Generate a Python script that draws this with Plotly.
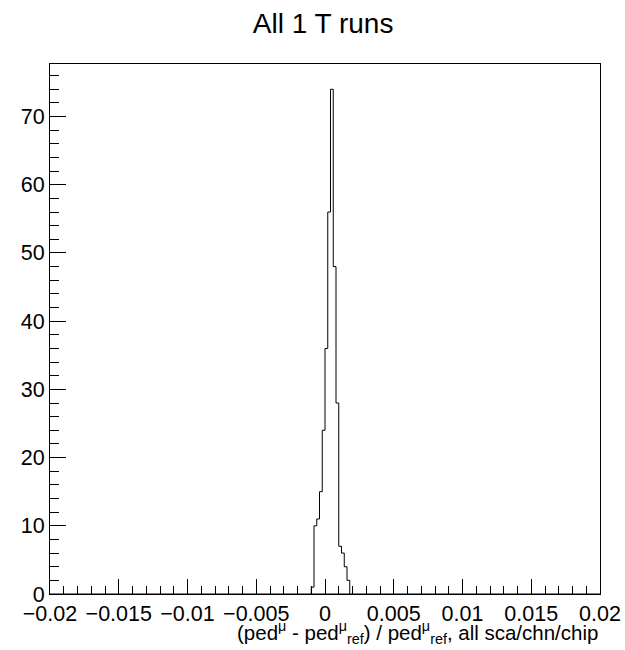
import plotly.graph_objects as go

# Histogram data (bin width 0.0002)
bin_start = -0.0010
bin_width = 0.0002
counts = [1, 10, 11, 15, 24, 36, 56, 74, 48, 28, 7, 6, 4, 2]

x_ticks = [-0.02, -0.015, -0.01, -0.005, 0, 0.005, 0.01, 0.015, 0.02]
x_tick_labels = ["\u22120.02", "\u22120.015", "\u22120.01", "\u22120.005", "0", "0.005", "0.01", "0.015", "0.02"]
y_ticks = [0, 10, 20, 30, 40, 50, 60, 70]

n = len(counts)
edges = [bin_start + i * bin_width for i in range(n + 1)]
xs = [edges[0]] + edges[:n] + [edges[n]]
ys = [0] + counts + [0]

FONT = "Liberation Sans, Arial, Helvetica, sans-serif"

fig = go.Figure()
# zero baseline across whole range (ROOT draws empty bins at 0)
fig.add_trace(go.Scatter(x=[-0.02, 0.02], y=[0, 0], mode="lines",
                         line=dict(color="black", width=1), hoverinfo="skip"))
fig.add_trace(go.Scatter(x=xs, y=ys, mode="lines", line_shape="hv",
                         line=dict(color="black", width=1), hoverinfo="skip"))

ymax = max(counts) * 1.05

fig.update_layout(
    width=625, height=650,
    margin=dict(l=50, r=25, t=64, b=56, autoexpand=False),
    paper_bgcolor="white", plot_bgcolor="white",
    showlegend=False,
    font=dict(family=FONT, color="black", size=21),
    title=dict(text="All 1 T runs", x=0.517, xanchor="center", y=0.965, yanchor="middle",
               font=dict(size=28, family=FONT, color="black")),
    xaxis=dict(range=[-0.02, 0.02], tickvals=x_ticks, ticktext=x_tick_labels,
               ticks="inside", ticklen=15, tickwidth=1, tickcolor="black",
               showline=True, linecolor="black", linewidth=1, mirror=True,
               showgrid=False, zeroline=False, automargin=False,
               minor=dict(ticks="inside", ticklen=8, dtick=0.001, tick0=0, tickcolor="black", showgrid=False),
               tickfont=dict(size=21.5, family=FONT, color="black")),
    yaxis=dict(range=[0, ymax], tickvals=y_ticks,
               ticks="inside", ticklen=16, tickwidth=1, tickcolor="black",
               showline=True, linecolor="black", linewidth=1, mirror=True,
               showgrid=False, zeroline=False, automargin=False,
               minor=dict(ticks="inside", ticklen=9, dtick=2, tick0=0, tickcolor="black", showgrid=False),
               tickfont=dict(size=21.5, family=FONT, color="black")),
)

fig.add_annotation(
    text="(ped<sup>\u03bc</sup> - ped<sup>\u03bc</sup><sub>ref</sub>) / ped<sup>\u03bc</sup><sub>ref</sub>, all sca/chn/chip",
    xref="paper", yref="paper", x=1.0, y=-0.041, xanchor="right", yanchor="top",
    showarrow=False, font=dict(size=20.5, family=FONT, color="black"))

fig.write_html("out.html")
